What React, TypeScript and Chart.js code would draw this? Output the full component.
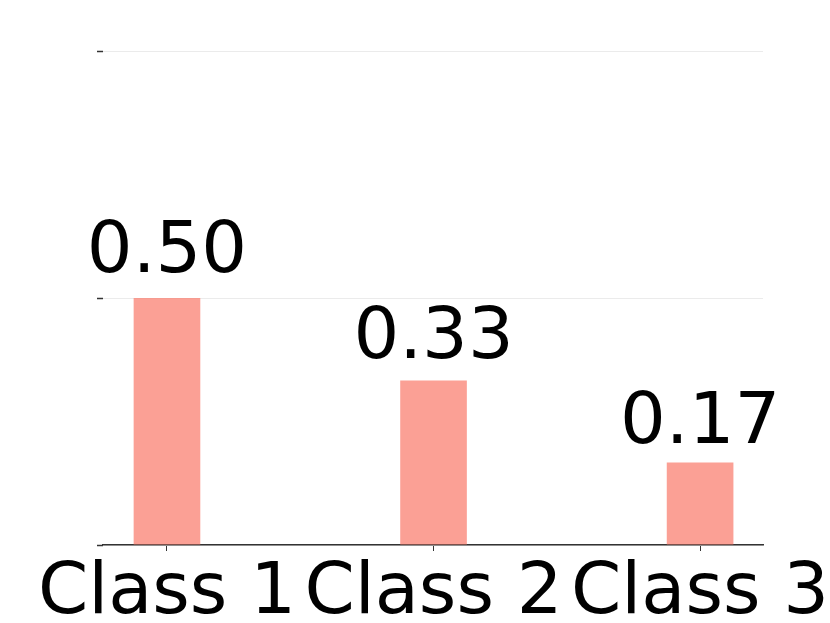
import React, { useEffect, useRef } from "react";
import { Chart, registerables } from "chart.js";

Chart.register(...registerables);

const categories: string[] = ["Class 1", "Class 2", "Class 3"];
const values: number[] = [0.5, 0.333, 0.167];
const valueLabels: string[] = ["0.50", "0.33", "0.17"];
const yTicks: number[] = [0, 0.5, 1.0];

const FONT = "'DejaVu Sans', sans-serif";

const textPlugin = {
  id: "textLabels",
  afterDatasetsDraw(chart: any) {
    const ctx = chart.ctx;
    const meta = chart.getDatasetMeta(0);
    const yScale = chart.scales.y;
    const xScale = chart.scales.x;
    ctx.save();
    ctx.font = `72px ${FONT}`;
    ctx.fillStyle = "#000000";
    ctx.textAlign = "center";
    ctx.textBaseline = "alphabetic";
    meta.data.forEach((el: any, i: number) => {
      const y = yScale.getPixelForValue(values[i] * 1.036) - 17;
      ctx.fillText(valueLabels[i], el.x, y);
    });
    categories.forEach((c, i) => {
      ctx.fillText(c, xScale.getPixelForValue(i), chart.chartArea.bottom + 68);
    });
    ctx.restore();
  },
};

export default function App() {
  const canvasRef = useRef<HTMLCanvasElement | null>(null);

  useEffect(() => {
    if (!canvasRef.current) return;
    const chart = new Chart(canvasRef.current, {
      type: "bar",
      data: {
        datasets: [
          {
            data: values.map((v, i) => ({ x: i, y: v })),
            backgroundColor: "rgba(250,128,114,0.75)",
            borderWidth: 0,
            categoryPercentage: 1,
            barPercentage: 0.25,
          },
        ],
      },
      options: {
        animation: false,
        responsive: false,
        maintainAspectRatio: false,
        layout: { padding: { left: 97, top: 51, right: 67, bottom: 72 } },
        plugins: {
          legend: { display: false },
          tooltip: { enabled: false },
        },
        scales: {
          x: {
            type: "linear",
            offset: false,
            min: -0.24,
            max: 2.236,
            afterBuildTicks: (axis: any) => {
              axis.ticks = categories.map((_, i) => ({ value: i }));
            },
            ticks: { display: false },
            grid: {
              offset: false,
              drawOnChartArea: false,
              drawTicks: true,
              tickLength: 6,
              tickColor: "#333333",
              tickWidth: 1,
            },
            border: { display: true, color: "#333333", width: 1.5 },
          },
          y: {
            min: 0,
            max: 1,
            afterBuildTicks: (axis: any) => {
              axis.ticks = yTicks.map((v) => ({ value: v }));
            },
            ticks: { display: false },
            grid: {
              color: "#EBEBEB",
              lineWidth: 1,
              drawTicks: true,
              tickLength: 6,
              tickColor: "#333333",
              tickWidth: 1.5,
            },
            border: { display: false },
          },
        },
      },
      plugins: [textPlugin],
    });
    return () => chart.destroy();
  }, []);

  return (
    <div style={{ position: "absolute", left: 0, top: 0, width: 830, height: 623, background: "#ffffff" }}>
      <canvas ref={canvasRef} width={830} height={623} />
    </div>
  );
}
